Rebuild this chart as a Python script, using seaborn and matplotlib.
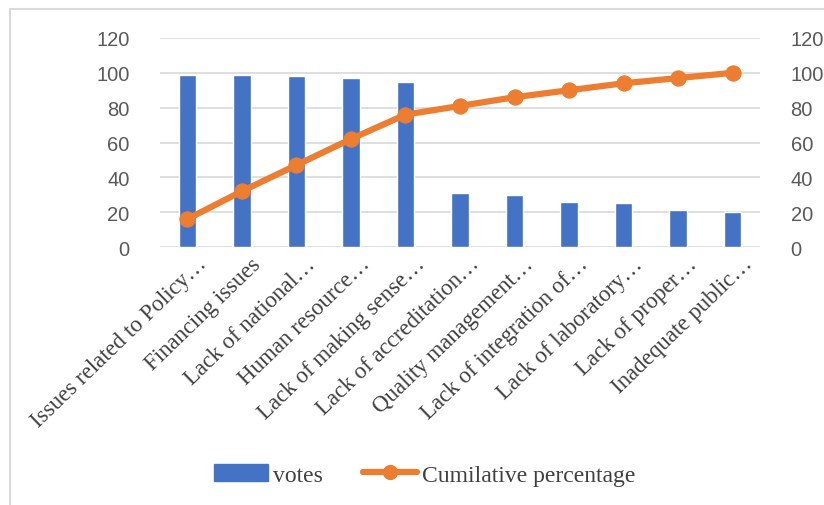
import matplotlib as mpl, numpy as np, pandas as pd
import matplotlib.pyplot as plt
from matplotlib.lines import Line2D
from matplotlib.patches import Patch
from matplotlib.transforms import ScaledTranslation
import seaborn as sns


# data
issues = ['Issues related to Policy\u2026', 'Financing issues', 'Lack of national\u2026',
          'Human resource\u2026', 'Lack of making sense\u2026', 'Lack of accreditation\u2026',
          'Quality management\u2026', 'Lack of integration of\u2026', 'Lack of laboratory\u2026',
          'Lack of proper\u2026', 'Inadequate public\u2026']
votes = [99, 99, 98, 97, 95, 31, 30, 26, 25, 21, 20]
cum_pct = [16, 32, 47, 62, 76, 81, 86, 90, 94, 97, 100]
yticks = [0, 20, 40, 60, 80, 100, 120]

blue = '#4472C4'
orange = '#ED7D31'
grey = '#595959'

sns.set_style('white')
plt.rcParams['font.family'] = ['Liberation Serif', 'DejaVu Serif']

data = pd.DataFrame({'issue': issues, 'votes': votes, 'cum': cum_pct})

fig = plt.figure(figsize=(8.24, 5.06), dpi=100)
ax = fig.add_axes([160/824, 1-248/506, 600/824, 209/506])

sns.barplot(data=data, x='issue', y='votes', color=blue, width=0.32,
            saturation=1, ax=ax)
ax.set_xlim(-0.5, len(issues)-0.5)
ax.set_ylim(0, 120)
ax.set_yticks(yticks)
ax.yaxis.grid(True, color='#D9D9D9', lw=1.2)
ax.set_axisbelow(True)
ax.set_xlabel('')
ax.set_ylabel('')
for s in ax.spines.values():
    s.set_visible(False)
ax.tick_params(axis='y', length=0, pad=22, labelcolor=grey, labelsize=14.5)
ax.tick_params(axis='x', length=0, pad=3, labelcolor='#404040', labelsize=16.5)
for lab in ax.get_yticklabels():
    lab.set_fontfamily('Liberation Sans')
ax.set_xticks(range(len(issues)))
ax.set_xticklabels(issues, rotation=44, ha='right', va='top', rotation_mode='anchor')
# nudge labels so their right end sits a little right of the bar, as in Excel
shift = ScaledTranslation(9/100, -2/100, fig.dpi_scale_trans)
for lab in ax.get_xticklabels():
    lab.set_transform(lab.get_transform() + shift)

ax2 = ax.twinx()
sns.lineplot(x=np.arange(len(issues)), y=data['cum'], color=orange, lw=4.5,
             marker='o', markersize=11, markeredgecolor=orange, ax=ax2)
ax2.set_ylim(0, 120)
ax2.set_yticks(yticks)
ax2.set_ylabel('')
for s in ax2.spines.values():
    s.set_visible(False)
ax2.tick_params(axis='y', length=0, pad=22, labelcolor=grey, labelsize=14.5)
for lab in ax2.get_yticklabels():
    lab.set_fontfamily('Liberation Sans')

handles = [Patch(facecolor=blue, edgecolor=blue),
           Line2D([], [], color=orange, lw=4.5, marker='o', markersize=10)]
fig.legend(handles, ['votes', 'Cumilative percentage'], loc='center',
           bbox_to_anchor=(0.515, 0.06), ncol=2, frameon=False,
           prop={'size': 17}, handlelength=2.3, handleheight=0.75,
           columnspacing=1.7, handletextpad=0.2, labelcolor='#404040')

# chart area border (only top and left are visible in the reference)
fig.add_artist(Line2D([10/824, 10/824], [0, 1-10/506], color='#D9D9D9', lw=1.5))
fig.add_artist(Line2D([10/824, 1], [1-10/506, 1-10/506], color='#D9D9D9', lw=1.5))

fig.savefig('out.png', dpi=100)
